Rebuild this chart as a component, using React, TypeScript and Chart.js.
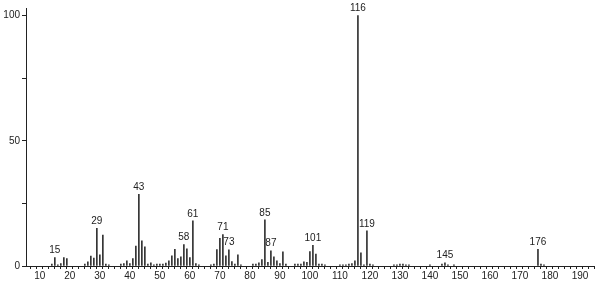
import React, { useEffect, useRef } from "react";
import { Chart, registerables } from "chart.js";

Chart.register(...registerables);

const mz: number[] = [
  14, 15, 16, 17, 18, 19,
  25, 26, 27, 28, 29, 30, 31, 32, 33,
  37, 38, 39, 40, 41, 42, 43, 44, 45, 46, 47, 48, 49, 50, 51, 52, 53, 54, 55, 56, 57, 58, 59, 60, 61, 62, 63,
  67, 68, 69, 70, 71, 72, 73, 74, 75, 76, 77,
  81, 82, 83, 84, 85, 86, 87, 88, 89, 90, 91, 92,
  95, 96, 97, 98, 99, 100, 101, 102, 103, 104, 105,
  110, 111, 112, 113, 114, 115, 116, 117, 118, 119, 120, 121,
  128, 129, 130, 131, 132, 133, 140, 144, 145, 146, 148,
  176, 177, 178,
];
const intensity: number[] = [
  0.8, 3.4, 0.5, 1.0, 3.4, 3.0,
  0.8, 1.7, 4.0, 3.2, 15.0, 4.5, 12.3, 0.8, 0.5,
  0.8, 1.0, 2.1, 1.0, 3.0, 8.0, 28.6, 10.0, 7.7, 0.8, 1.3, 0.5, 0.8, 0.8, 0.8, 1.2, 2.1, 4.1, 6.7, 3.0, 3.7, 8.6, 6.9, 3.4, 18.0, 1.0, 0.5,
  0.5, 0.8, 6.6, 11.0, 12.5, 4.1, 6.5, 1.8, 0.8, 4.5, 0.5,
  0.8, 0.8, 1.3, 2.6, 18.4, 1.5, 6.1, 3.7, 2.1, 1.0, 5.7, 0.8,
  0.8, 0.8, 0.8, 1.7, 1.5, 5.8, 8.3, 4.8, 0.8, 0.8, 0.5,
  0.5, 0.5, 0.5, 0.8, 1.0, 2.1, 100, 5.3, 0.5, 14.0, 0.8, 0.5,
  0.5, 0.5, 0.8, 0.8, 0.5, 0.5, 0.5, 0.8, 1.3, 0.5, 0.5,
  6.7, 0.8, 0.5,
];
const labelledPeaks: number[] = [15, 29, 43, 58, 61, 71, 73, 85, 87, 101, 116, 119, 145, 176];
const xTickLabels: number[] = [10, 20, 30, 40, 50, 60, 70, 80, 90, 100, 110, 120, 130, 140, 150, 160, 170, 180, 190];
const yTickLabels: number[] = [0, 50, 100];

const FONT = "Liberation Sans";
const INK = "#222";

const peakLabelPlugin = {
  id: "peakLabels",
  afterDatasetsDraw(chart: any) {
    const { ctx, scales } = chart;
    ctx.save();
    ctx.font = `10px "${FONT}"`;
    ctx.fillStyle = INK;
    ctx.textAlign = "center";
    ctx.textBaseline = "bottom";
    labelledPeaks.forEach((m) => {
      const i = mz.indexOf(m);
      if (i < 0) return;
      const x = scales.x.getPixelForValue(m);
      const y = scales.y.getPixelForValue(intensity[i]);
      ctx.fillText(String(m), x, y - 2);
    });
    ctx.restore();
  },
};

export default function App() {
  const ref = useRef<HTMLCanvasElement>(null);
  useEffect(() => {
    document.body.style.margin = "0";
    const canvas = ref.current;
    if (!canvas) return;
    const chart = new Chart(canvas, {
      type: "bar",
      data: {
        datasets: [
          {
            data: mz.map((m, i) => ({ x: m, y: intensity[i] })),
            backgroundColor: "#333",
            borderWidth: 0,
            barThickness: 1,
          } as any,
        ],
      },
      options: {
        responsive: false,
        animation: false,
        maintainAspectRatio: false,
        layout: { padding: { top: 6, right: 0, left: 0, bottom: 0 } },
        plugins: {
          legend: { display: false },
          tooltip: { enabled: false },
        },
        scales: {
          x: {
            type: "linear",
            min: 6.4,
            max: 194,
            afterFit: (s: any) => {
              s.height = 16;
            },
            afterBuildTicks: (s: any) => {
              const t = [];
              for (let v = 8; v <= 194; v += 2) t.push({ value: v });
              s.ticks = t;
            },
            ticks: {
              autoSkip: false,
              maxRotation: 0,
              padding: 1,
              font: { family: FONT, size: 10 },
              color: INK,
              callback: (v: any) => (xTickLabels.includes(Number(v)) ? String(v) : ""),
            },
            grid: {
              drawOnChartArea: false,
              drawTicks: true,
              tickLength: 3,
              color: INK,
            },
            border: { display: true, color: INK, width: 1 },
          },
          y: {
            type: "linear",
            min: 0,
            max: 103,
            afterFit: (s: any) => {
              s.width = 26;
            },
            afterBuildTicks: (s: any) => {
              s.ticks = [0, 25, 50, 75, 100].map((v) => ({ value: v }));
            },
            ticks: {
              autoSkip: false,
              padding: 2,
              font: { family: FONT, size: 10 },
              color: INK,
              callback: (v: any) => (yTickLabels.includes(Number(v)) ? String(v) : ""),
            },
            grid: {
              drawOnChartArea: false,
              drawTicks: true,
              tickLength: 4,
              color: INK,
            },
            border: { display: true, color: INK, width: 1 },
          },
        },
      },
      plugins: [peakLabelPlugin],
    });
    return () => chart.destroy();
  }, []);
  return <canvas ref={ref} width={595} height={282} style={{ display: "block" }} />;
}
